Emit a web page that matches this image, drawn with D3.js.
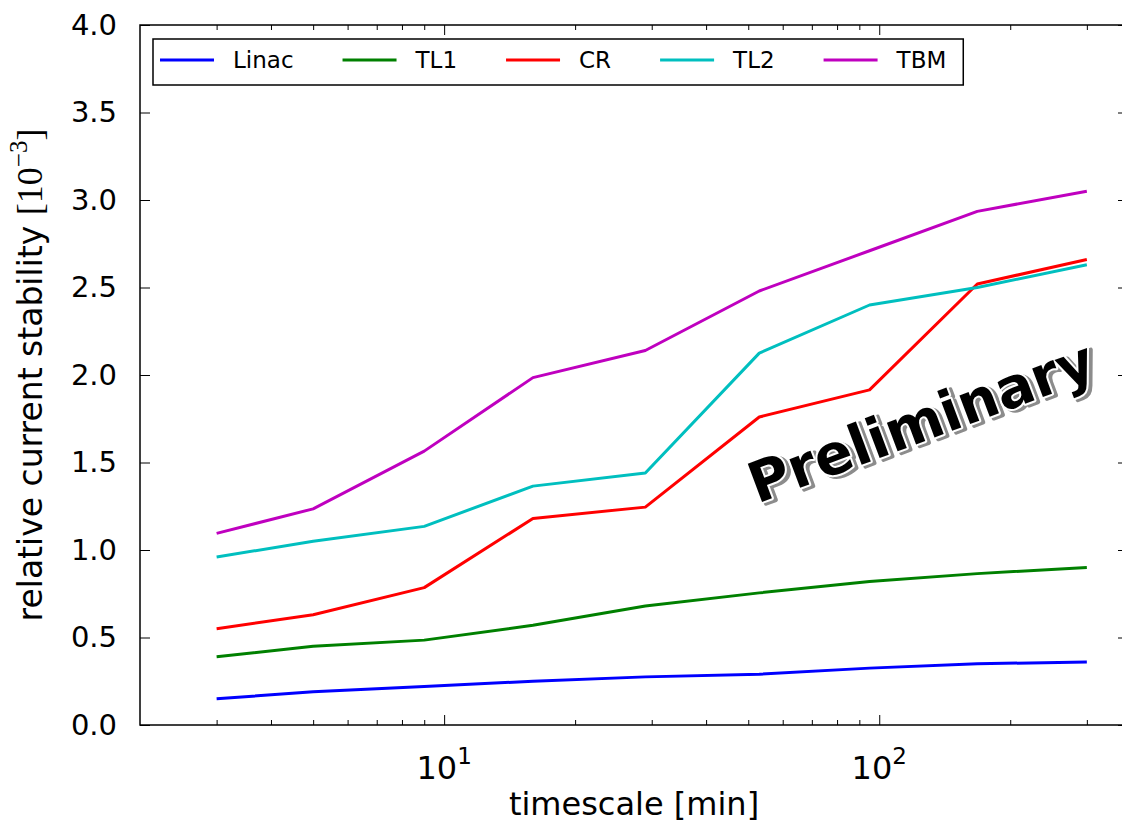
<!DOCTYPE html>
<html lang="en">
	<head>
		<meta charset="UTF-8">
		<title>Current stability</title>
		<style>
			body{
				margin:0;
				background:#fff;
			}
			text{
				font-family:"DejaVu Sans",sans-serif;
				fill:#000;
			}
			.axis path{
				display:none;
			}
			.axis line{
				stroke:#000;
				stroke-width:1;
			}
			.series{
				fill:none;
				stroke-width:3;
				stroke-linejoin:round;
			}
		</style>
	</head>
	<body>
		<svg width="1122" height="826"></svg>
		<script src="https://cdn.jsdelivr.net/npm/d3@7"></script>
		<script>
			// timescale in minutes
			var timescale = [3, 5, 9, 16, 29, 53, 95, 168, 300];
			var names = ["Linac", "TL1", "CR", "TL2", "TBM"];
			var colors = ["#0000ff", "#008000", "#ff0000", "#00bfbf", "#bf00bf"];
			var linac = [0.15, 0.19, 0.22, 0.25, 0.275, 0.29, 0.325, 0.35, 0.36];
			var tl1 = [0.39, 0.45, 0.485, 0.57, 0.68, 0.755, 0.82, 0.865, 0.90];
			var cr = [0.55, 0.63, 0.785, 1.18, 1.245, 1.76, 1.915, 2.52, 2.66];
			var tl2 = [0.96, 1.05, 1.135, 1.365, 1.44, 2.125, 2.40, 2.50, 2.63];
			var tbm = [1.095, 1.235, 1.565, 1.985, 2.14, 2.48, 2.71, 2.935, 3.05];
			var yTicks = [0.0, 0.5, 1.0, 1.5, 2.0, 2.5, 3.0, 3.5, 4.0];
			var xMajor = [10, 100];
			var xMinor = [3, 4, 5, 6, 7, 8, 9, 20, 30, 40, 50, 60, 70, 80, 90, 200, 300];
			var xDomain = [2, 373];
			var yDomain = [0, 4];

			var series = [linac, tl1, cr, tl2, tbm];

			var svg = d3.select("svg"),
				margin = {"top":25, "left":140},
				plotRight = 1128,
				plotBottom = 725;

			var x = d3.scaleLog().domain(xDomain).range([margin.left, plotRight]),
				y = d3.scaleLinear().domain(yDomain).range([plotBottom, margin.top]);

			// lines
			var line = d3.line()
				.x(function(d, i){return x(timescale[i]);})
				.y(function(d){return y(d);});
			svg.append("g")
				.selectAll("path")
				.data(series)
				.enter()
				.append("path")
				.attr("class", "series")
				.attr("stroke", function(d, i){return colors[i];})
				.attr("d", line);

			// axes (ticks point inward)
			svg.append("g")
				.attr("class", "axis")
				.attr("transform", "translate(" + margin.left + ",0)")
				.call(d3.axisLeft(y).tickValues(yTicks).tickSize(-10).tickPadding(23).tickFormat(d3.format(".1f")))
				.selectAll("text")
				.style("font-size", "29px");
			svg.append("g")
				.attr("class", "axis")
				.attr("transform", "translate(" + plotRight + ",0)")
				.call(d3.axisRight(y).tickValues(yTicks).tickSize(-10).tickFormat(""));
			[plotBottom, margin.top].forEach(function(pos){
				var bottom = pos === plotBottom;
				var mk = bottom ? d3.axisBottom : d3.axisTop;
				svg.append("g")
					.attr("class", "axis")
					.attr("transform", "translate(0," + pos + ")")
					.call(mk(x).tickValues(xMajor).tickSize(-10).tickFormat(""));
				svg.append("g")
					.attr("class", "axis")
					.attr("transform", "translate(0," + pos + ")")
					.call(mk(x).tickValues(xMinor).tickSize(-5).tickFormat(""));
			});

			// 10^n labels
			var xl = svg.append("g").selectAll("text")
				.data(xMajor)
				.enter()
				.append("text")
				.attr("x", function(d){return x(d);})
				.attr("y", 779)
				.attr("text-anchor", "middle")
				.style("font-size", "32px");
			xl.append("tspan").text("10");
			xl.append("tspan")
				.attr("dy", -15)
				.style("font-size", "23px")
				.text(function(d){return Math.round(Math.log10(d));});

			// frame
			svg.append("rect")
				.attr("x", margin.left)
				.attr("y", margin.top)
				.attr("width", plotRight - margin.left)
				.attr("height", plotBottom - margin.top)
				.attr("fill", "none")
				.attr("stroke", "#000")
				.attr("stroke-width", 1.5);

			// axis titles
			svg.append("text")
				.attr("x", (margin.left + plotRight) / 2)
				.attr("y", 815)
				.attr("text-anchor", "middle")
				.style("font-size", "32px")
				.text("timescale [min]");
			var yl = svg.append("text")
				.attr("transform", "translate(42," + (margin.top + plotBottom) / 2 + ") rotate(-90)")
				.attr("text-anchor", "middle")
				.style("font-size", "33px");
			yl.append("tspan").text("relative current stability ");
			yl.append("tspan").style("font-family", "'Liberation Serif',serif").style("font-size", "36px").text("[10");
			yl.append("tspan").attr("dy", -15).style("font-family", "'Liberation Serif',serif").style("font-size", "25px").text("\u22123");
			yl.append("tspan").attr("dy", 15).style("font-family", "'Liberation Serif',serif").style("font-size", "36px").text("]");

			// legend
			var leg = svg.append("g");
			var box = leg.append("rect")
				.attr("x", 153)
				.attr("y", 39)
				.attr("height", 46)
				.attr("fill", "#fff")
				.attr("stroke", "#000")
				.attr("stroke-width", 1.5);
			var lx = 160;
			names.forEach(function(n, i){
				leg.append("line")
					.attr("x1", lx).attr("x2", lx + 54)
					.attr("y1", 60).attr("y2", 60)
					.attr("stroke", colors[i])
					.attr("stroke-width", 3);
				var t = leg.append("text")
					.attr("x", lx + 73)
					.attr("y", 68)
					.style("font-size", "23px")
					.text(n);
				var w = t.node().getComputedTextLength();
				if(i < names.length - 1) lx = lx + 73 + w + 49;
				else box.attr("width", lx + 73 + w + 17 - 153);
			});

			// watermark
			var wm = svg.append("g")
				.attr("transform", "translate(928,440) rotate(-20.5)")
				.style("font-weight", "bold")
				.style("font-size", "56px");
			wm.append("text")
				.attr("x", 3).attr("y", 3)
				.attr("text-anchor", "middle")
				.style("fill", "#8c8c8c")
				.attr("stroke", "#8c8c8c")
				.attr("stroke-width", 4)
				.attr("stroke-linejoin", "round")
				.text("Preliminary");
			wm.append("text")
				.attr("text-anchor", "middle")
				.attr("stroke", "#fff")
				.attr("stroke-width", 4)
				.attr("stroke-linejoin", "round")
				.attr("paint-order", "stroke")
				.text("Preliminary");
		</script>
	</body>
</html>
